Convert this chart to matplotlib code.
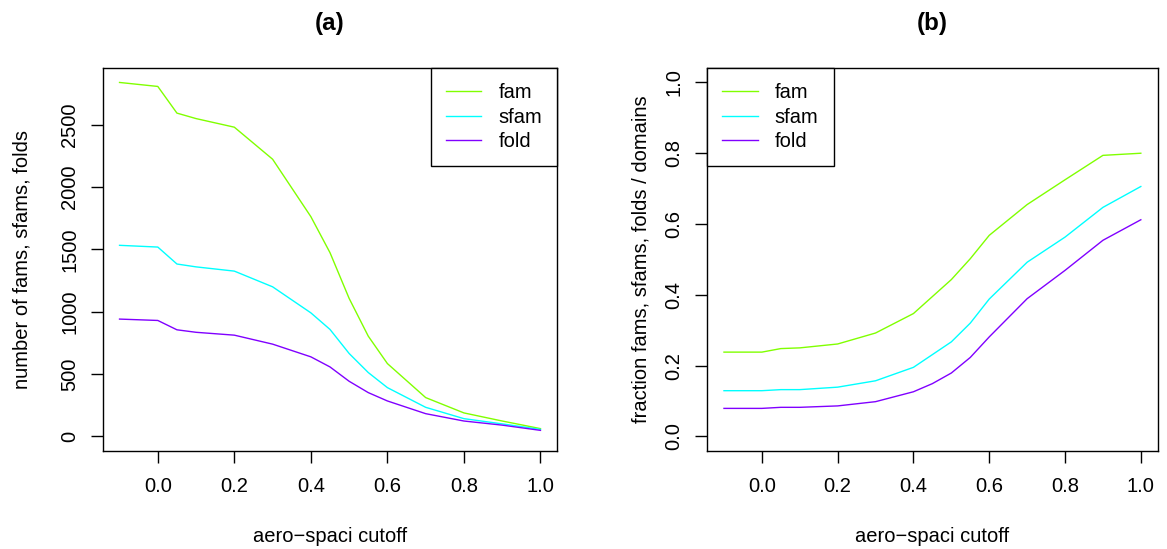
import matplotlib
matplotlib.use("Agg")
import matplotlib.pyplot as plt

plt.rcParams["font.family"] = ["Liberation Sans", "DejaVu Sans"]

# aero-spaci cutoff values
cutoff = [-0.1, 0.0, 0.05, 0.1, 0.2, 0.3, 0.4, 0.45, 0.5, 0.55, 0.6, 0.7, 0.8, 0.9, 1.0]

# (a) number of SCOP families / superfamilies / folds surviving the cutoff
n_fam = [2840, 2808, 2594, 2550, 2481, 2224, 1763, 1474, 1107, 804, 584, 311, 188, 123, 62]
n_sfam = [1533, 1519, 1383, 1360, 1326, 1200, 991, 858, 665, 512, 391, 233, 142, 100, 56]
n_fold = [941, 930, 855, 835, 812, 740, 638, 557, 442, 351, 284, 182, 123, 90, 48]

# (b) fraction of families / superfamilies / folds per domain
f_fam = [0.238, 0.238, 0.248, 0.250, 0.261, 0.292, 0.347, 0.395, 0.443, 0.502, 0.568, 0.655, 0.725, 0.794, 0.800]
f_sfam = [0.129, 0.129, 0.132, 0.132, 0.139, 0.157, 0.195, 0.231, 0.267, 0.320, 0.388, 0.492, 0.563, 0.647, 0.706]
f_fold = [0.079, 0.079, 0.082, 0.082, 0.086, 0.098, 0.126, 0.149, 0.179, 0.223, 0.281, 0.389, 0.469, 0.554, 0.612]

series_names = ["fam", "sfam", "fold"]
series_colors = ["#80FF00", "#00FFFF", "#8000FF"]

x_ticks = [0.0, 0.2, 0.4, 0.6, 0.8, 1.0]
x_ticklabels = ["0.0", "0.2", "0.4", "0.6", "0.8", "1.0"]
ya_ticks = [0, 500, 1000, 1500, 2000, 2500]
yb_ticks = [0.0, 0.2, 0.4, 0.6, 0.8, 1.0]
yb_ticklabels = ["0.0", "0.2", "0.4", "0.6", "0.8", "1.0"]

W, H = 1167, 549
fig = plt.figure(figsize=(W / 100, H / 100), dpi=100)

FS = 14.5
TOP, BOTTOM = 68.3, 450.5


def px_axes(x0, x1):
    return fig.add_axes([x0 / W, 1 - BOTTOM / H, (x1 - x0) / W, (BOTTOM - TOP) / H])


ax_a = px_axes(102.7, 557.3)
ax_b = px_axes(707.3, 1157.5)


def style(ax, title, ylabel, ylabel_x, legend_loc):
    x0 = ax.get_position().x0 * W
    width = ax.get_position().width * W
    height = BOTTOM - TOP
    for s in ax.spines.values():
        s.set_linewidth(1.0)
        s.set_color("black")
    ax.tick_params(direction="out", length=8.5, width=1.0, labelsize=FS, pad=10.5)
    ax.tick_params(axis="y", pad=8.5)
    ax.set_xlim(-0.144, 1.044)
    ax.set_xticks(x_ticks)
    ax.set_xticklabels(x_ticklabels)
    for lab in ax.get_yticklabels():
        lab.set_rotation(90)
        lab.set_va("center")
    ax.set_title(title, fontsize=17.4, fontweight="bold", pad=0,
                 y=(BOTTOM - 23.3) / height, va="center")
    ax.set_xlabel("aero\u2212spaci cutoff", fontsize=FS, va="center")
    ax.xaxis.set_label_coords(0.5, (BOTTOM - 536) / height)
    ax.set_ylabel(ylabel, fontsize=FS, va="center")
    ax.yaxis.set_label_coords((ylabel_x - x0) / width, 0.5)
    leg = ax.legend(loc=legend_loc, frameon=True, fancybox=False, framealpha=1,
                    edgecolor="black", borderaxespad=0, fontsize=FS,
                    handlelength=1.75, handletextpad=0.85, labelspacing=0.26,
                    borderpad=0.75)
    leg.get_frame().set_linewidth(1.0)


for ys, name, col in zip([n_fam, n_sfam, n_fold], series_names, series_colors):
    ax_a.plot(cutoff, ys, color=col, lw=1.0, label=name)
ax_a.set_ylim(-0.04 * max(n_fam), 1.04 * max(n_fam))
ax_a.set_yticks(ya_ticks)
ax_a.set_yticklabels([str(v) for v in ya_ticks])
style(ax_a, "(a)", "number of fams, sfams, folds", 22, "upper right")

for ys, name, col in zip([f_fam, f_sfam, f_fold], series_names, series_colors):
    ax_b.plot(cutoff, ys, color=col, lw=1.0, label=name)
ax_b.set_ylim(-0.04, 1.04)
ax_b.set_yticks(yb_ticks)
ax_b.set_yticklabels(yb_ticklabels)
style(ax_b, "(b)", "fraction fams, sfams, folds / domains", 641, "upper left")

fig.savefig("out.png", dpi=100)
